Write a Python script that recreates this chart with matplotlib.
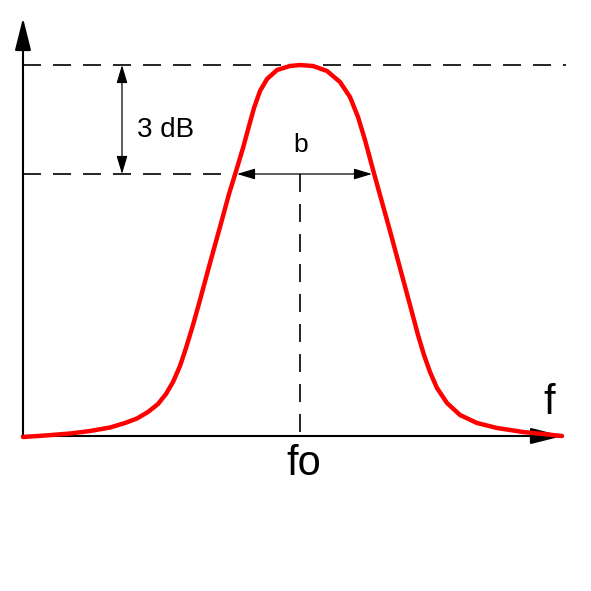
import matplotlib.pyplot as plt

# response curve (pixel coords, y grows downwards)
curve_x = [23, 45, 70, 90, 110, 125, 137, 148, 158, 166, 173, 180, 186, 193, 200, 210,
           220, 229, 237, 243, 249, 254, 260, 267, 277, 290, 300, 313, 327, 340, 350,
           358, 365, 372, 380, 390, 400, 410, 418, 424, 430, 437, 447, 460, 477, 497,
           523, 543, 562]
curve_y = [437, 435.5, 433.5, 431, 427.5, 423, 418.5, 412, 404, 394, 382, 366, 348, 325, 300, 263,
           227, 194, 168, 148, 126, 108, 91, 79, 70, 66, 65, 66, 71, 82, 97,
           117, 140, 166, 195, 231, 268, 305, 335, 355, 372, 388, 403, 415, 423, 428,
           432, 434, 436]

x0, y0 = 23, 436          # origin of the axes
x_end, y_top = 563, 18    # arrow tips
peak_y = 65               # maximum level
db3_y = 174               # -3 dB level
f_lo, f_hi = 237, 372     # band edges
fo_x = 300                # centre frequency
db_arrow_x = 122

plt.rcParams['font.family'] = ['Liberation Sans', 'DejaVu Sans']

fig = plt.figure(figsize=(5.91, 5.91), dpi=100)
ax = fig.add_axes([0, 0, 1, 1])
ax.set_xlim(0, 591)
ax.set_ylim(591, 0)
ax.axis('off')

# axes with arrows
ax.annotate('', xy=(x0, y_top), xytext=(x0, y0 + 1),
            arrowprops=dict(arrowstyle='-|>,head_length=1.0,head_width=0.25',
                            mutation_scale=20, lw=1.5, color='black',
                            shrinkA=0, shrinkB=0))
ax.annotate('', xy=(x_end, y0), xytext=(x0 - 1, y0),
            arrowprops=dict(arrowstyle='-|>,head_length=1.0,head_width=0.25',
                            mutation_scale=20, lw=1.5, color='black',
                            shrinkA=0, shrinkB=0))

# dashed guide lines
dash = (0, (10.8, 7.2))
ax.plot([x0, 566], [peak_y, peak_y], color='black', lw=1.2, linestyle=dash)
ax.plot([x0, f_lo], [db3_y, db3_y], color='black', lw=1.2, linestyle=dash)
ax.plot([fo_x, fo_x], [db3_y, y0], color='black', lw=1.2, linestyle=dash)

# 3 dB and bandwidth arrows
ax.annotate('', xy=(db_arrow_x, peak_y), xytext=(db_arrow_x, db3_y),
            arrowprops=dict(arrowstyle='<|-|>,head_length=1.1,head_width=0.33',
                            mutation_scale=10, lw=0.9, color='black',
                            shrinkA=0, shrinkB=0))
ax.annotate('', xy=(f_lo, db3_y), xytext=(f_hi, db3_y),
            arrowprops=dict(arrowstyle='<|-|>,head_length=1.1,head_width=0.33',
                            mutation_scale=10, lw=0.9, color='black',
                            shrinkA=0, shrinkB=0))

# curve
ax.plot(curve_x, curve_y, color='#ff0000', lw=3.2, solid_capstyle='round',
        solid_joinstyle='round', zorder=5)

# labels
ax.text(137, 137, '3 dB', fontsize=20, ha='left', va='baseline')
ax.text(301, 152, 'b', fontsize=19, ha='center', va='baseline')
ax.text(549, 414, 'f', fontsize=30, ha='center', va='baseline')
ax.text(304, 475, 'fo', fontsize=30, ha='center', va='baseline')

fig.savefig('out.png', dpi=100)
